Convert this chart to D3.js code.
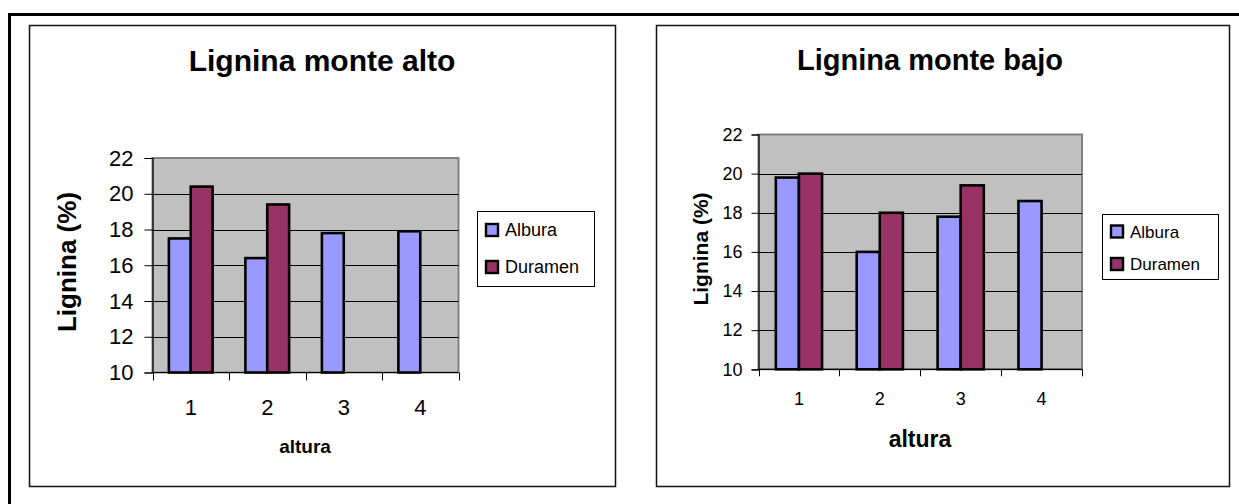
<!DOCTYPE html>
<html>
<head>
<meta charset="utf-8">
<script src="https://cdn.jsdelivr.net/npm/d3@7"></script>
<style>
  html, body { margin: 0; padding: 0; background: #fff; }
  svg { display: block; }
  text { font-family: "Liberation Sans", Arial, Helvetica, sans-serif; fill: #000; }
</style>
</head>
<body>
<svg id="chart" width="1239" height="504"></svg>
<script>
// ---- data ----
const categories = ["1", "2", "3", "4"];
const seriesNames = ["Albura", "Duramen"];
const seriesColors = ["#9999FF", "#993366"];
const altoAlbura = [17.5, 16.4, 17.8, 17.9];
const altoDuramen = [20.4, 19.4, null, null];
const bajoAlbura = [19.8, 16.0, 17.8, 18.6];
const bajoDuramen = [20.0, 18.0, 19.4, null];
const yTicks = [10, 12, 14, 16, 18, 20, 22];
const yDomain = [10, 22];
const titles = ["Lignina monte alto", "Lignina monte bajo"];
const yTitle = "Lignina (%)";
const xTitle = "altura";

const svg = d3.select("#chart");

// outer frame
svg.append("path")
  .attr("d", "M9.5,504 V14.5 H1239")
  .attr("fill", "none").attr("stroke", "#000").attr("stroke-width", 3);

const panels = [
  {
    title: titles[0], series: [altoAlbura, altoDuramen],
    box: { x: 29, y: 25, w: 586, h: 461 },
    plot: { x0: 152.5, x1: 458.5, y0: 158, y1: 372.5 },
    titlePos: { x: 322, y: 71, size: 30 },
    yTitlePos: { x: 67, y: 262, size: 26 },
    xTitlePos: { x: 305, y: 453, size: 19 },
    tickSize: 22, tickLen: 8, tickPad: 11, catBaseline: 415,
    legend: { x: 477, y: 211, w: 117, h: 75, size: 18, rows: [236, 273] }
  },
  {
    title: titles[1], series: [bajoAlbura, bajoDuramen],
    box: { x: 656, y: 25, w: 573, h: 461 },
    plot: { x0: 758.5, x1: 1082, y0: 134.5, y1: 369.3 },
    titlePos: { x: 930, y: 70, size: 29 },
    yTitlePos: { x: 701, y: 249, size: 21 },
    xTitlePos: { x: 920, y: 447, size: 23 },
    tickSize: 18, tickLen: 7, tickPad: 9, catBaseline: 405,
    legend: { x: 1102, y: 214, w: 116, h: 65, size: 17, rows: [237.5, 270] }
  }
];

panels.forEach(p => {
  const g = svg.append("g");
  // chart box
  g.append("rect")
    .attr("x", p.box.x + 0.5).attr("y", p.box.y + 0.5)
    .attr("width", p.box.w).attr("height", p.box.h)
    .attr("fill", "#fff").attr("stroke", "#111").attr("stroke-width", 1.5);

  const x = d3.scaleBand().domain(categories).range([p.plot.x0, p.plot.x1]).padding(0);
  const y = d3.scaleLinear().domain(yDomain).range([p.plot.y1, p.plot.y0]);
  const barW = x.bandwidth() / 3.5;

  // plot area background
  g.append("rect")
    .attr("x", p.plot.x0).attr("y", p.plot.y0)
    .attr("width", p.plot.x1 - p.plot.x0).attr("height", p.plot.y1 - p.plot.y0)
    .attr("fill", "#C0C0C0").attr("stroke", "#808080").attr("stroke-width", 2);

  // gridlines
  g.append("g").selectAll("line").data(yTicks.filter(t => t > yDomain[0] && t < yDomain[1]))
    .join("line")
    .attr("x1", p.plot.x0).attr("x2", p.plot.x1)
    .attr("y1", d => Math.round(y(d)) + 0.5).attr("y2", d => Math.round(y(d)) + 0.5)
    .attr("stroke", "#000").attr("stroke-width", 1);

  // bars
  p.series.forEach((vals, si) => {
    g.append("g").selectAll("rect")
      .data(categories.map((c, i) => ({ c, v: vals[i] })).filter(d => d.v != null))
      .join("rect")
      .attr("x", d => x(d.c) + x.bandwidth() / 2 - barW + si * barW)
      .attr("y", d => y(d.v))
      .attr("width", barW)
      .attr("height", d => y(yDomain[0]) - y(d.v))
      .attr("fill", seriesColors[si])
      .attr("stroke", "#000").attr("stroke-width", 2.6);
  });

  // y axis
  const yAxis = d3.axisLeft(y).tickValues(yTicks).tickSize(p.tickLen).tickPadding(p.tickPad).tickFormat(d3.format("d"));
  const ya = g.append("g").attr("transform", `translate(${p.plot.x0},0)`).call(yAxis);
  ya.select(".domain").attr("stroke", "#000").attr("stroke-width", 1.2);
  ya.selectAll(".tick line").attr("stroke", "#000");
  ya.selectAll(".tick text").attr("font-size", p.tickSize).attr("font-family", "Liberation Sans, Arial, sans-serif");

  // x axis: line + ticks at band boundaries
  g.append("line")
    .attr("x1", p.plot.x0).attr("x2", p.plot.x1)
    .attr("y1", p.plot.y1).attr("y2", p.plot.y1)
    .attr("stroke", "#000").attr("stroke-width", 1.2);
  const bounds = categories.map(c => x(c)).concat([p.plot.x1]);
  g.append("g").selectAll("line").data(bounds).join("line")
    .attr("x1", d => Math.round(d) + 0.5).attr("x2", d => Math.round(d) + 0.5)
    .attr("y1", p.plot.y1).attr("y2", p.plot.y1 + p.tickLen)
    .attr("stroke", "#000").attr("stroke-width", 1);
  g.append("g").selectAll("text").data(categories).join("text")
    .attr("x", d => x(d) + x.bandwidth() / 2)
    .attr("y", p.catBaseline)
    .attr("text-anchor", "middle").attr("font-size", p.tickSize)
    .text(d => d);

  // titles
  g.append("text").attr("x", p.titlePos.x).attr("y", p.titlePos.y)
    .attr("text-anchor", "middle").attr("font-size", p.titlePos.size).attr("font-weight", "bold")
    .text(p.title);
  g.append("text").attr("x", p.xTitlePos.x).attr("y", p.xTitlePos.y)
    .attr("text-anchor", "middle").attr("font-size", p.xTitlePos.size).attr("font-weight", "bold")
    .text(xTitle);
  g.append("text")
    .attr("transform", `translate(${p.yTitlePos.x},${p.yTitlePos.y}) rotate(-90)`)
    .attr("text-anchor", "middle").attr("dy", "0.35em")
    .attr("font-size", p.yTitlePos.size).attr("font-weight", "bold")
    .text(yTitle);

  // legend
  const L = p.legend;
  g.append("rect").attr("x", L.x + 0.5).attr("y", L.y + 0.5).attr("width", L.w).attr("height", L.h)
    .attr("fill", "#fff").attr("stroke", "#000").attr("stroke-width", 1);
  const items = g.append("g").selectAll("g").data(seriesNames).join("g");
  items.append("rect")
    .attr("x", L.x + 9).attr("y", (d, i) => L.rows[i] - 12)
    .attr("width", 12).attr("height", 12)
    .attr("fill", (d, i) => seriesColors[i]).attr("stroke", "#000").attr("stroke-width", 2.4);
  items.append("text")
    .attr("x", L.x + 28).attr("y", (d, i) => L.rows[i])
    .attr("font-size", L.size)
    .text(d => d);
});
</script>
</body>
</html>
